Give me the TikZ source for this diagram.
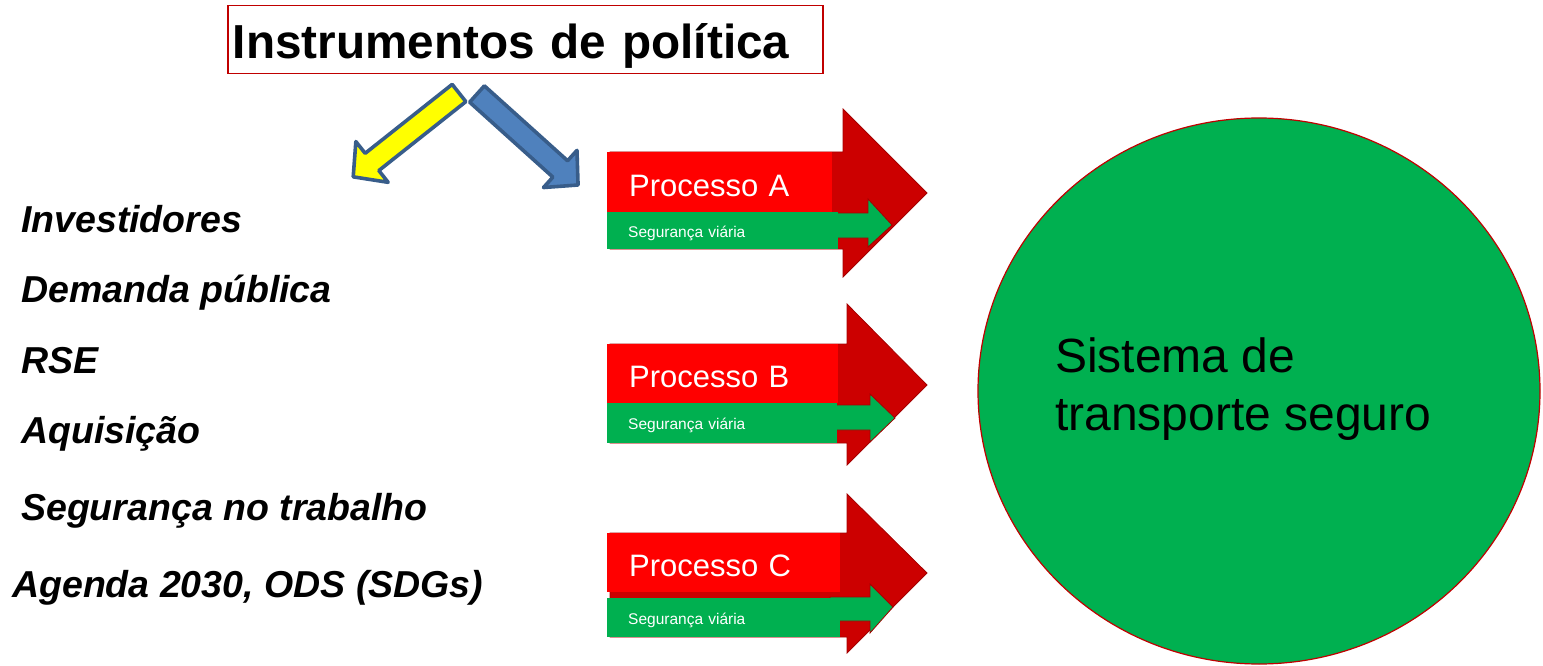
\documentclass[tikz,border=0pt]{standalone}
\usepackage{fontspec}
\setmainfont{Liberation Sans}
\usetikzlibrary{shapes.geometric}
\definecolor{procred}{HTML}{FF0000}
\definecolor{darkred}{HTML}{CC0000}
\definecolor{edgered}{HTML}{A50000}
\definecolor{safegreen}{HTML}{00B050}
\definecolor{boxred}{HTML}{C00000}
\definecolor{polyellow}{HTML}{FFFF00}
\definecolor{polblue}{HTML}{4F81BD}
\definecolor{polline}{HTML}{385D8A}
\begin{document}
\begin{tikzpicture}[x=1pt,y=-1pt,
    item/.style={anchor=base west, inner sep=0pt, font=\fontsize{37.5}{37.5}\selectfont\bfseries\itshape},
    procbox/.style={anchor=north west, fill=procred, text=white, inner xsep=22pt, inner ysep=0pt, minimum height=60pt, text height=28pt, text depth=0pt, align=left, font=\fontsize{31}{31}\selectfont},
    segbox/.style={anchor=north west, fill=safegreen, text=white, inner xsep=21pt, inner ysep=0pt, text height=13pt, text depth=0pt, align=left, font=\fontsize{15.5}{15.5}\selectfont},
    bigarrow/.style={fill=darkred, draw=edgered, line width=0.8pt},
    smallarrow/.style={fill=safegreen, draw=edgered, line width=0.8pt},
    polarrow/.style={draw=polline, line width=3.6pt, line join=round}]
    \useasboundingbox (0,0) rectangle (1543,666);

    % Titulo
    \node[draw=boxred, line width=1.5pt, anchor=north west, minimum height=68pt, text width=585pt, inner xsep=5pt, inner ysep=0pt, text height=38pt, text depth=0pt, align=left, font=\fontsize{47.7}{47.7}\selectfont\bfseries] (title) at (227,5) {Instrumentos de política};

    % Setas dos instrumentos
    \begin{scope}[shift={(459,93)}, rotate=218.4]
        \draw[polarrow, fill=polyellow] (0,-11) -- (111,-11) -- (111,-26) -- (135,0) -- (111,26) -- (111,11) -- (0,11) -- cycle;
    \end{scope}
    \begin{scope}[shift={(477,94)}, rotate=-42]
        \draw[polarrow, fill=polblue] (0,-11) -- (112,-11) -- (112,-25) -- (136,0) -- (112,25) -- (112,11) -- (0,11) -- cycle;
    \end{scope}

    % Lista
    \node[item] (inv) at (21,232) {Investidores};
    \node[item] (dem) at (21,302) {Demanda pública};
    \node[item] (rse) at (21,373) {RSE};
    \node[item] (aqu) at (21,443) {Aquisição};
    \node[item] (trab) at (21,520) {Segurança no trabalho};
    \node[item] (ods) at (12,597) {Agenda 2030, ODS (SDGs)};

    % Processo A
    \draw[bigarrow] (610,152) -- (843,152) -- (843,109) -- (927,193) -- (843,277) -- (843,249) -- (610,249) -- cycle;
    \draw[smallarrow] (830,213) -- (868,213) -- (868,199) -- (892,225) -- (868,247) -- (868,238) -- (830,238) -- cycle;
    \node[procbox, text width=181pt] (procA) at (607,152) {Processo A};
    \node[segbox, text width=189pt, minimum height=37pt] (segA) at (607,212) {Segurança viária};

    % Processo B
    \draw[bigarrow] (610,344) -- (847,344) -- (847,304) -- (927,385) -- (847,465) -- (847,443) -- (610,443) -- cycle;
    \draw[smallarrow] (830,405) -- (870,405) -- (870,394) -- (895,418) -- (870,442) -- (870,430) -- (830,430) -- cycle;
    \node[procbox, text width=187pt, minimum height=59pt] (procB) at (607,344) {Processo B};
    \node[segbox, text width=188pt, minimum height=40pt] (segB) at (607,403) {Segurança viária};

    % Processo C
    \draw[bigarrow] (610,533) -- (847,533) -- (847,494) -- (927,573) -- (847,653) -- (847,637) -- (610,637) -- cycle;
    \draw[smallarrow] (830,597) -- (870,597) -- (870,584) -- (893,607) -- (870,633) -- (870,621) -- (830,621) -- cycle;
    \node[procbox, text width=189pt, minimum height=59pt] (procC) at (607,533) {Processo C};
    \node[segbox, text width=191pt, minimum height=39pt] (segC) at (607,598) {Segurança viária};

    % Sistema
    \node[ellipse, fill=safegreen, draw=boxred, line width=1.2pt, minimum width=562pt, minimum height=546pt, inner sep=0pt] (sys) at (1259,391) {};
    \node[anchor=west, inner sep=0pt, align=left, font=\fontsize{48}{58}\selectfont] (systxt) at (1055,389) {Sistema de\\transporte seguro};
\end{tikzpicture}
\end{document}
